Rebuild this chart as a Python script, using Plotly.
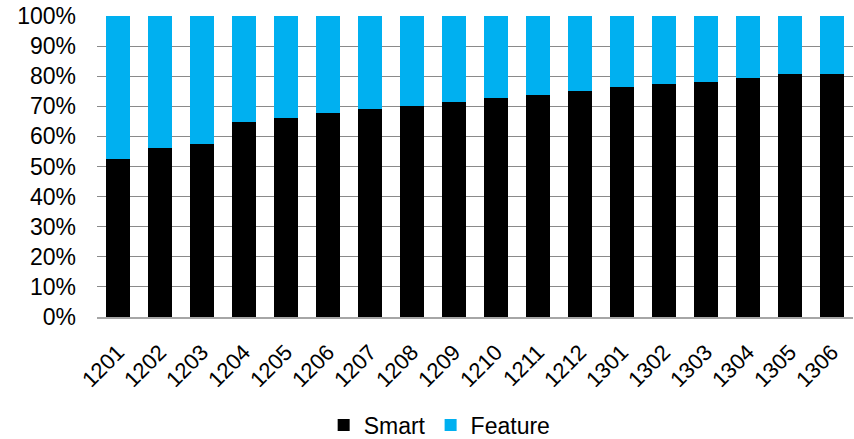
import plotly.graph_objects as go

# Monthly share of handset shipments: smartphones vs. feature phones (%)
months = ["1201", "1202", "1203", "1204", "1205", "1206", "1207", "1208", "1209",
          "1210", "1211", "1212", "1301", "1302", "1303", "1304", "1305", "1306"]
smart = [52.4, 56.2, 57.4, 64.7, 66.0, 67.7, 69.0, 70.1, 71.4,
         72.6, 73.7, 75.1, 76.3, 77.4, 78.1, 79.4, 80.6, 80.6]
feature = [47.6, 43.8, 42.6, 35.3, 34.0, 32.3, 31.0, 29.9, 28.6,
           27.4, 26.3, 24.9, 23.7, 22.6, 21.9, 20.6, 19.4, 19.4]
y_ticks = [0, 10, 20, 30, 40, 50, 60, 70, 80, 90, 100]
y_tick_labels = ["0%", "10%", "20%", "30%", "40%", "50%", "60%", "70%", "80%", "90%", "100%"]

FONT = "Liberation Sans, Arial, sans-serif"

fig = go.Figure()
fig.add_trace(go.Bar(x=months, y=smart, name="Smart", marker=dict(color="#000000", line=dict(width=0))))
fig.add_trace(go.Bar(x=months, y=feature, name="Feature", marker=dict(color="#00B0F0", line=dict(width=0))))

fig.update_layout(
    width=854, height=439,
    barmode="stack", bargap=0.45,
    plot_bgcolor="white", paper_bgcolor="white",
    margin=dict(l=97, r=1, t=16, b=122),
    font=dict(family=FONT, color="#000000"),
    legend=dict(
        orientation="h", xref="container", yref="container",
        x=0.379, xanchor="left", y=0.032, yanchor="middle",
        font=dict(size=23, family=FONT), itemwidth=30,
        traceorder="normal", tracegroupgap=0,
    ),
)
fig.update_yaxes(
    range=[0, 100], tickmode="array", tickvals=y_ticks, ticktext=y_tick_labels,
    showgrid=True, gridcolor="#8a8a8a", gridwidth=1,
    zeroline=False, showline=False,
    tickfont=dict(size=23, family=FONT), ticklabelstandoff=20,
)
fig.update_xaxes(
    type="category", tickangle=-45,
    showline=True, linecolor="#a6a6a6", linewidth=1.5,
    showgrid=False, ticks="",
    tickfont=dict(size=22, family=FONT), ticklabelstandoff=12,
)

fig.write_html("out.html")
